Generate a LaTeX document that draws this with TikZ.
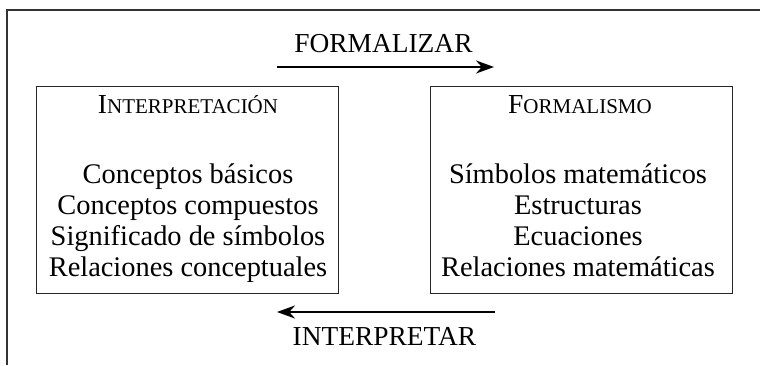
\documentclass[tikz,border=0pt]{standalone}
\usepackage{fontspec}
\setmainfont{Liberation Serif}
\usepackage{tikz}
\usetikzlibrary{arrows.meta}
\usetikzlibrary{positioning}

\newcommand{\falsasc}[2]{{\fontsize{27.5}{27.5}\selectfont #1\fontsize{21}{21}\selectfont #2}}

\tikzset{
  caja/.style={draw=black!85, line width=1pt, minimum width=302pt, minimum height=207pt, inner sep=0pt},
  linea/.style={anchor=base, font=\fontsize{28.4}{28.4}\selectfont, inner sep=0pt},
  titulo/.style={anchor=base, inner sep=0pt},
  verbo/.style={anchor=base, font=\fontsize{27.4}{27.4}\selectfont, inner sep=0pt},
  flecha/.style={line width=2.4pt, -{Stealth[length=18pt,width=13pt]}}
}

\begin{document}
\begin{tikzpicture}[x=1pt,y=-1pt]
  \useasboundingbox (0,0) rectangle (760,365);
  % marco exterior
  \draw[black!80, line width=1.3pt] (7,365) -- (7,10) -- (760,10);

  % cajas
  \node[caja] (interp) at (187,189.5) {};
  \node[caja] (formal) at (581,189.5) {};

  \node[titulo] (interptit) at (188,113) {\falsasc{I}{NTERPRETACIÓN}};
  \node[titulo] (formaltit) at (580,113) {\falsasc{F}{ORMALISMO}};

  % lineas de texto
  \foreach \txt [count=\i] in {Conceptos básicos, Conceptos compuestos, Significado de símbolos, Relaciones conceptuales}
    \node[linea] (izq\i) at (188,{183+31.3*(\i-1)}) {\txt};
  \foreach \txt [count=\i] in {Símbolos matemáticos, Estructuras, Ecuaciones, Relaciones matemáticas}
    \node[linea] (der\i) at (578,{183+31.3*(\i-1)}) {\txt};

  % flechas
  \node[verbo] (formalizar) at (383.5,52) {FORMALIZAR};
  \coordinate (fa) at (277,67);
  \coordinate (fb) at (494,67);
  \draw[flecha] (fa) -- (fb);

  \node[verbo] (interpretar) at (384.5,345) {INTERPRETAR};
  \coordinate (ia) at (495,312);
  \coordinate (ib) at (277,312);
  \draw[flecha] (ia) -- (ib);
\end{tikzpicture}
\end{document}
